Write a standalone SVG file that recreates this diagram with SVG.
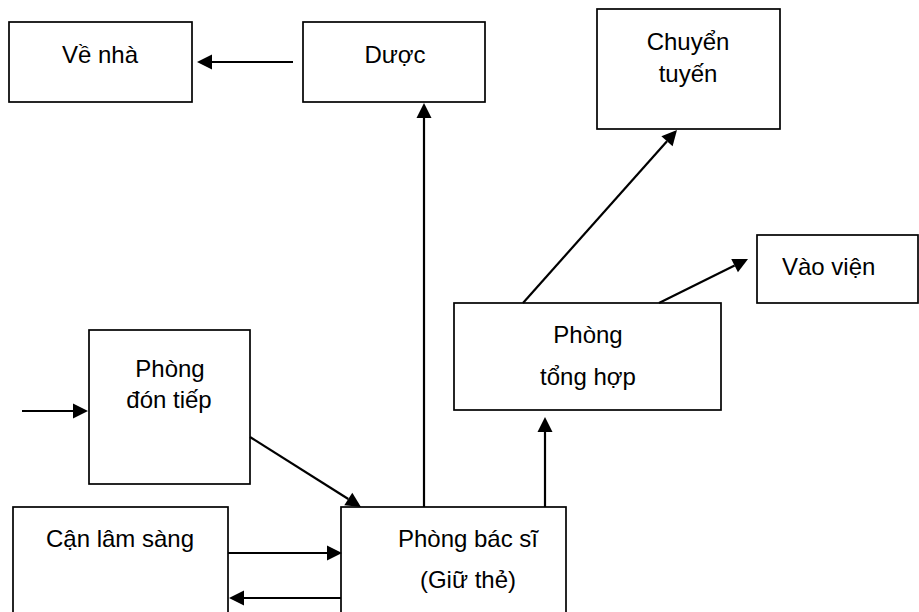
<svg xmlns="http://www.w3.org/2000/svg" width="919" height="612" viewBox="0 0 919 612">
  <style>
    .box { fill: #ffffff; stroke: #000000; stroke-width: 1.7; }
    .lbl { font-family: "Liberation Sans", Arial, sans-serif; font-size: 24px; fill: #000000; text-anchor: middle; }
    .lbl-start { text-anchor: start; }
    .edge { fill: none; stroke: #000000; stroke-width: 2.2; marker-end: url(#arrow); }
  </style>
  <defs>
    <marker id="arrow" markerUnits="userSpaceOnUse" viewBox="0 -8 16 16" markerWidth="16" markerHeight="16" refX="0" refY="0" orient="auto" overflow="visible">
      <path d="M0,-7.5 L15,0 L0,7.5 z" fill="#000000"/>
    </marker>
  </defs>

  <rect width="919" height="612" fill="#ffffff"/>

  <g id="ve-nha">
    <rect class="box" x="9" y="22" width="183" height="80"/>
    <text class="lbl" x="100" y="63">Về nhà</text>
  </g>

  <g id="duoc">
    <rect class="box" x="303" y="22" width="182" height="80"/>
    <text class="lbl" x="395" y="63">Dược</text>
  </g>

  <g id="chuyen-tuyen">
    <rect class="box" x="597" y="9" width="183" height="120"/>
    <text class="lbl" x="688" y="50">Chuyển</text>
    <text class="lbl" x="688" y="82">tuyến</text>
  </g>

  <g id="vao-vien">
    <rect class="box" x="757" y="235" width="161" height="68"/>
    <text class="lbl lbl-start" x="782" y="275">Vào viện</text>
  </g>

  <g id="phong-tong-hop">
    <rect class="box" x="454" y="303" width="267" height="107"/>
    <text class="lbl" x="588" y="343">Phòng</text>
    <text class="lbl" x="588" y="385">tổng hợp</text>
  </g>

  <g id="phong-don-tiep">
    <rect class="box" x="89" y="330" width="161" height="154"/>
    <text class="lbl" x="170" y="377">Phòng</text>
    <text class="lbl" x="169" y="408">đón tiếp</text>
  </g>

  <g id="can-lam-sang">
    <rect class="box" x="13" y="507" width="215" height="120"/>
    <text class="lbl" x="120" y="547">Cận lâm sàng</text>
  </g>

  <g id="phong-bac-si">
    <rect class="box" x="341" y="507" width="225" height="120"/>
    <text class="lbl" x="468" y="547">Phòng bác sĩ</text>
    <text class="lbl" x="468" y="588">(Giữ thẻ)</text>
  </g>

  <g id="connectors">
    <!-- lines end at the arrowhead base; the marker adds the 15px head -->
    <line class="edge" x1="293" y1="62" x2="212" y2="62"/>
    <line class="edge" x1="424" y1="507" x2="424" y2="118"/>
    <line class="edge" x1="523" y1="303" x2="667" y2="141.2"/>
    <line class="edge" x1="659" y1="303" x2="734.6" y2="265.6"/>
    <line class="edge" x1="545" y1="507" x2="545" y2="432"/>
    <line class="edge" x1="22" y1="411" x2="73" y2="411"/>
    <line class="edge" x1="250" y1="437" x2="348.3" y2="499"/>
    <line class="edge" x1="228" y1="553" x2="327" y2="553"/>
    <line class="edge" x1="341" y1="598" x2="244" y2="598"/>
  </g>
</svg>
